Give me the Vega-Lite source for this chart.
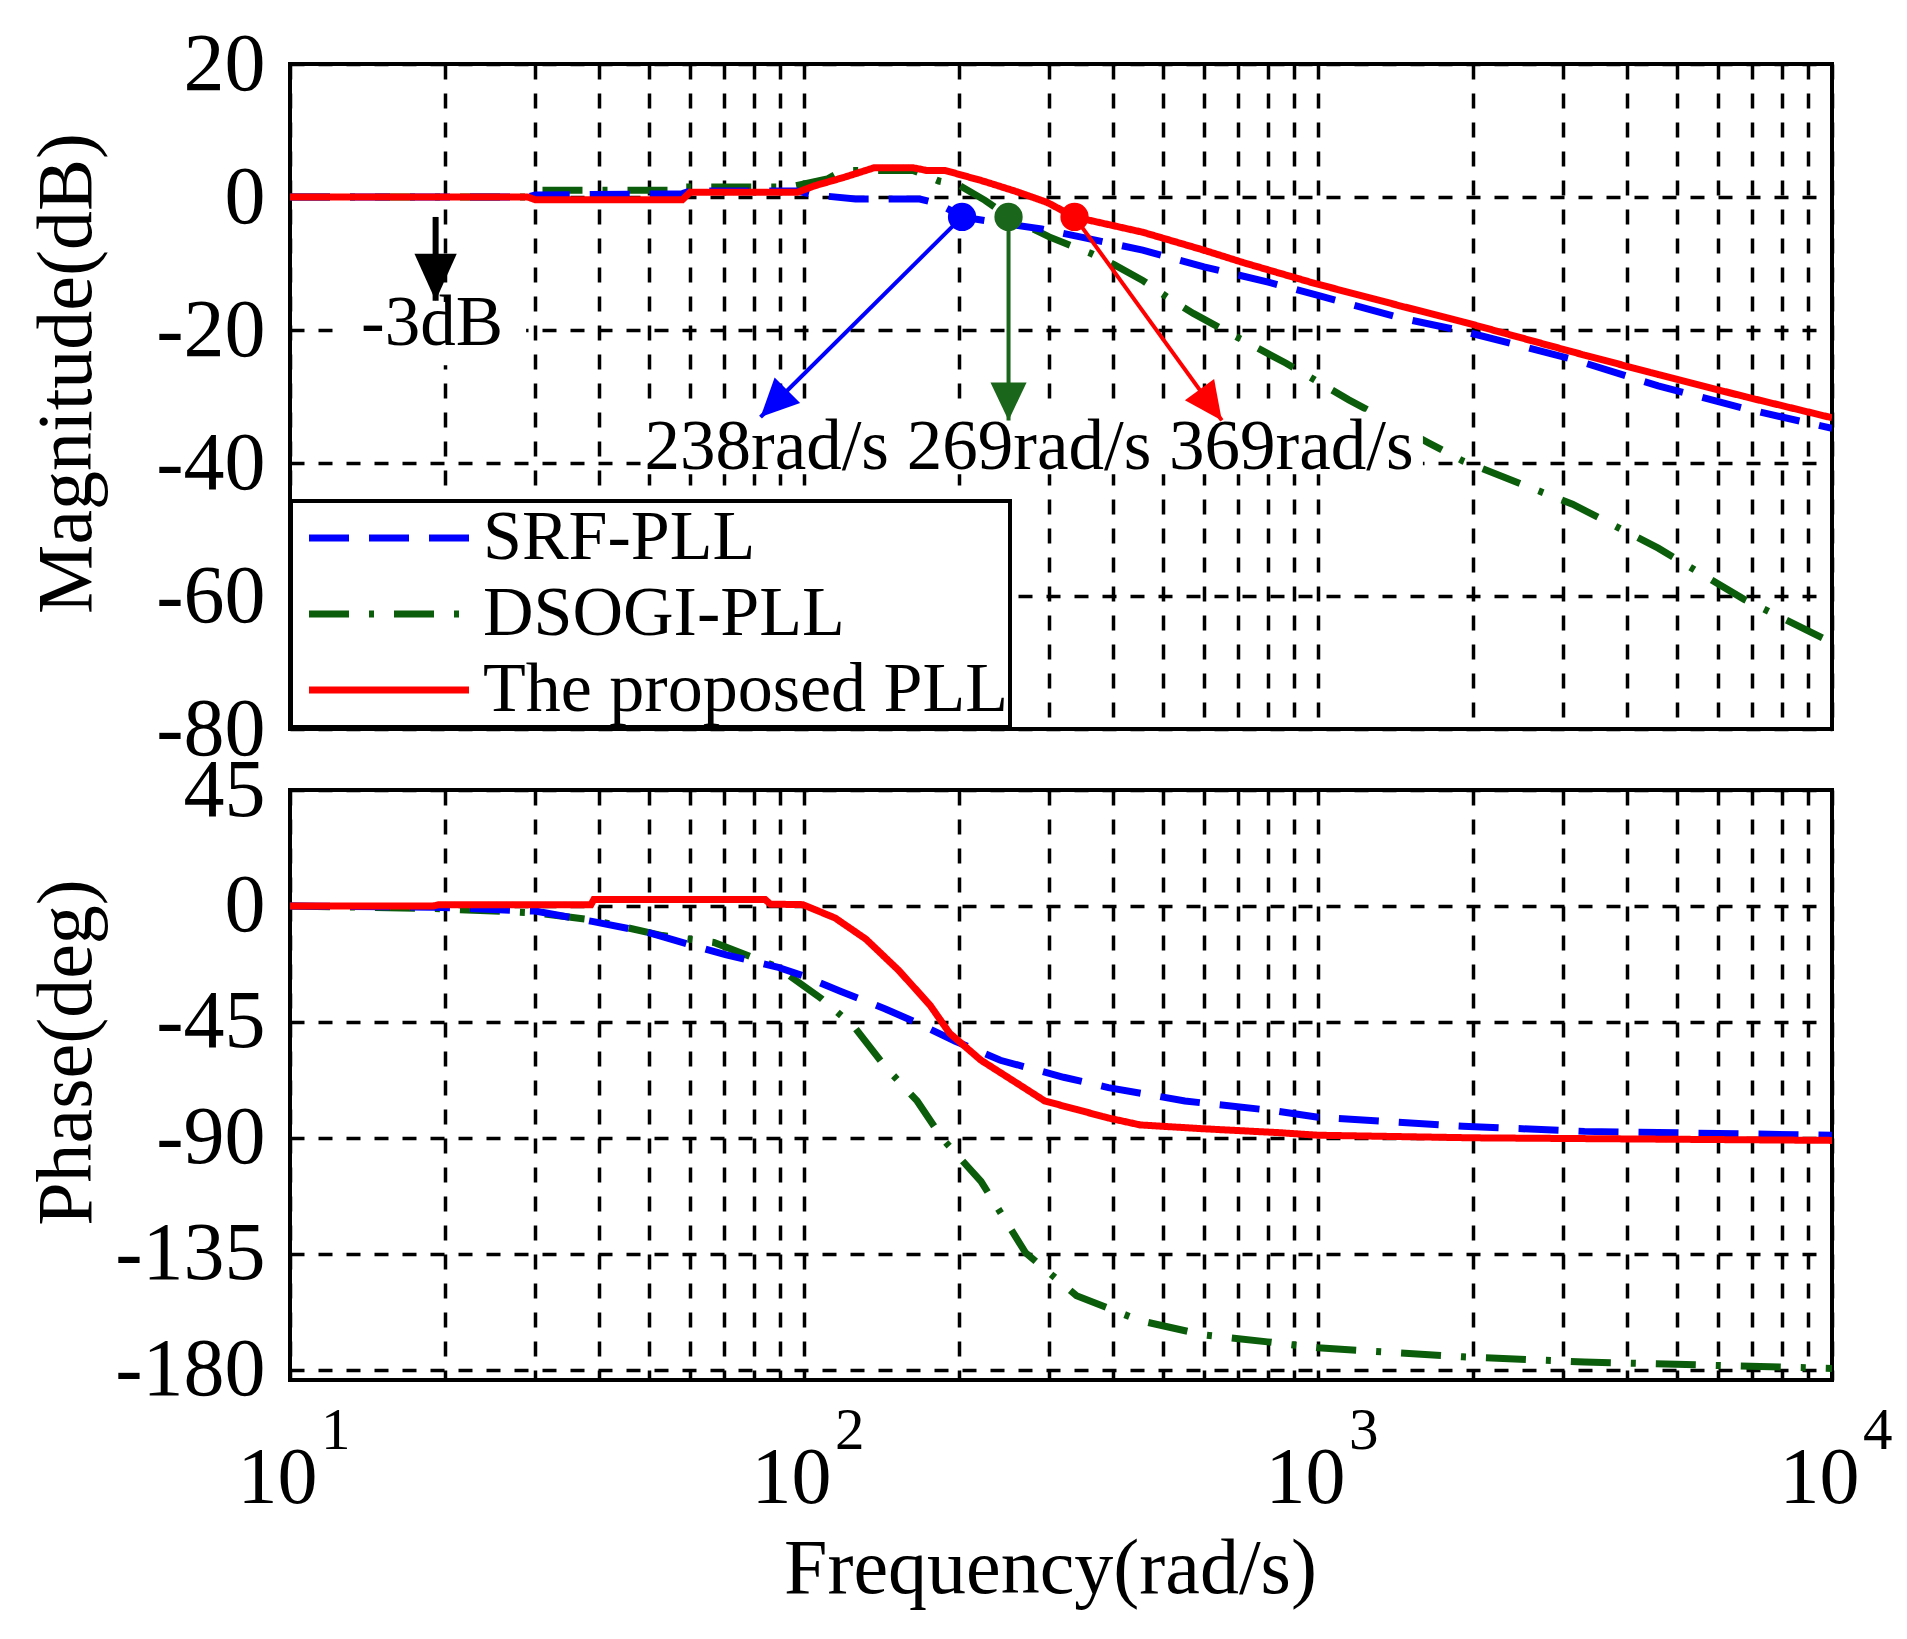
{
  "$schema": "https://vega.github.io/schema/vega-lite/v6.json",
  "padding": {"left": 26, "top": 21, "right": 0, "bottom": 0},
  "spacing": 61,
  "bounds": "flush",
  "datasets": {
    "mag": [
      {"s": "DSOGI-PLL", "f": 10, "db": 0}, {"s": "DSOGI-PLL", "f": 29, "db": 0}, {"s": "DSOGI-PLL", "f": 30, "db": 1},
      {"s": "DSOGI-PLL", "f": 58, "db": 1}, {"s": "DSOGI-PLL", "f": 59, "db": 1.5}, {"s": "DSOGI-PLL", "f": 94, "db": 1.5},
      {"s": "DSOGI-PLL", "f": 111, "db": 2.7}, {"s": "DSOGI-PLL", "f": 119, "db": 4}, {"s": "DSOGI-PLL", "f": 163, "db": 4},
      {"s": "DSOGI-PLL", "f": 183, "db": 2.4}, {"s": "DSOGI-PLL", "f": 200, "db": 1.8}, {"s": "DSOGI-PLL", "f": 225, "db": -0.5},
      {"s": "DSOGI-PLL", "f": 250, "db": -3}, {"s": "DSOGI-PLL", "f": 300, "db": -6}, {"s": "DSOGI-PLL", "f": 362, "db": -8.5},
      {"s": "DSOGI-PLL", "f": 402, "db": -10.2}, {"s": "DSOGI-PLL", "f": 455, "db": -12.5}, {"s": "DSOGI-PLL", "f": 519, "db": -15.5},
      {"s": "DSOGI-PLL", "f": 572, "db": -17.5}, {"s": "DSOGI-PLL", "f": 670, "db": -20.4}, {"s": "DSOGI-PLL", "f": 867, "db": -25},
      {"s": "DSOGI-PLL", "f": 1148, "db": -30.5}, {"s": "DSOGI-PLL", "f": 1644, "db": -37}, {"s": "DSOGI-PLL", "f": 1914, "db": -39.7},
      {"s": "DSOGI-PLL", "f": 3128, "db": -46.2}, {"s": "DSOGI-PLL", "f": 4592, "db": -52.8}, {"s": "DSOGI-PLL", "f": 6745, "db": -60.5},
      {"s": "DSOGI-PLL", "f": 10000, "db": -67},
      {"s": "SRF-PLL", "f": 10, "db": 0}, {"s": "SRF-PLL", "f": 29, "db": 0}, {"s": "SRF-PLL", "f": 30, "db": 0.3},
      {"s": "SRF-PLL", "f": 58, "db": 0.5}, {"s": "SRF-PLL", "f": 60, "db": 0.9}, {"s": "SRF-PLL", "f": 97, "db": 0.9},
      {"s": "SRF-PLL", "f": 105, "db": 0.3}, {"s": "SRF-PLL", "f": 126, "db": -0.3}, {"s": "SRF-PLL", "f": 168, "db": -0.3},
      {"s": "SRF-PLL", "f": 182, "db": -1}, {"s": "SRF-PLL", "f": 195, "db": -2.2}, {"s": "SRF-PLL", "f": 203, "db": -3},
      {"s": "SRF-PLL", "f": 240, "db": -3.9}, {"s": "SRF-PLL", "f": 290, "db": -4.8}, {"s": "SRF-PLL", "f": 350, "db": -6.1},
      {"s": "SRF-PLL", "f": 456, "db": -8}, {"s": "SRF-PLL", "f": 600, "db": -10.5}, {"s": "SRF-PLL", "f": 800, "db": -12.8},
      {"s": "SRF-PLL", "f": 1000, "db": -14.8}, {"s": "SRF-PLL", "f": 1450, "db": -18.2}, {"s": "SRF-PLL", "f": 1920, "db": -20.2},
      {"s": "SRF-PLL", "f": 3130, "db": -24.4}, {"s": "SRF-PLL", "f": 4590, "db": -28.4}, {"s": "SRF-PLL", "f": 6750, "db": -31.8},
      {"s": "SRF-PLL", "f": 10000, "db": -34.8},
      {"s": "The proposed PLL", "f": 10, "db": 0}, {"s": "The proposed PLL", "f": 29, "db": 0}, {"s": "The proposed PLL", "f": 30, "db": -0.4},
      {"s": "The proposed PLL", "f": 58, "db": -0.4}, {"s": "The proposed PLL", "f": 60, "db": 0.7}, {"s": "The proposed PLL", "f": 97, "db": 0.7},
      {"s": "The proposed PLL", "f": 105, "db": 1.7}, {"s": "The proposed PLL", "f": 119, "db": 2.9}, {"s": "The proposed PLL", "f": 137, "db": 4.4},
      {"s": "The proposed PLL", "f": 163, "db": 4.4}, {"s": "The proposed PLL", "f": 173, "db": 4}, {"s": "The proposed PLL", "f": 188, "db": 4},
      {"s": "The proposed PLL", "f": 223, "db": 2.4}, {"s": "The proposed PLL", "f": 257, "db": 0.9}, {"s": "The proposed PLL", "f": 297, "db": -0.8},
      {"s": "The proposed PLL", "f": 336, "db": -3}, {"s": "The proposed PLL", "f": 456, "db": -5.3}, {"s": "The proposed PLL", "f": 600, "db": -8},
      {"s": "The proposed PLL", "f": 718, "db": -9.9}, {"s": "The proposed PLL", "f": 986, "db": -13}, {"s": "The proposed PLL", "f": 1450, "db": -16.4},
      {"s": "The proposed PLL", "f": 1920, "db": -18.8}, {"s": "The proposed PLL", "f": 3130, "db": -23.3}, {"s": "The proposed PLL", "f": 4590, "db": -26.7},
      {"s": "The proposed PLL", "f": 6750, "db": -30}, {"s": "The proposed PLL", "f": 10000, "db": -33.2}
    ],
    "phase": [
      {"s": "DSOGI-PLL", "f": 10, "deg": 0}, {"s": "DSOGI-PLL", "f": 19, "deg": -1}, {"s": "DSOGI-PLL", "f": 30, "deg": -2.7},
      {"s": "DSOGI-PLL", "f": 38.7, "deg": -5.4}, {"s": "DSOGI-PLL", "f": 53, "deg": -11.5}, {"s": "DSOGI-PLL", "f": 66.8, "deg": -14.2},
      {"s": "DSOGI-PLL", "f": 88.7, "deg": -23.7}, {"s": "DSOGI-PLL", "f": 108, "deg": -35.9}, {"s": "DSOGI-PLL", "f": 125, "deg": -46.7},
      {"s": "DSOGI-PLL", "f": 144, "deg": -62.5}, {"s": "DSOGI-PLL", "f": 166, "deg": -75.7}, {"s": "DSOGI-PLL", "f": 186, "deg": -90.4},
      {"s": "DSOGI-PLL", "f": 221, "deg": -106.9}, {"s": "DSOGI-PLL", "f": 270, "deg": -134.7}, {"s": "DSOGI-PLL", "f": 339, "deg": -151.3},
      {"s": "DSOGI-PLL", "f": 451, "deg": -161}, {"s": "DSOGI-PLL", "f": 600, "deg": -166.5}, {"s": "DSOGI-PLL", "f": 798, "deg": -169.2},
      {"s": "DSOGI-PLL", "f": 1000, "deg": -171.5}, {"s": "DSOGI-PLL", "f": 1914, "deg": -175}, {"s": "DSOGI-PLL", "f": 3300, "deg": -177},
      {"s": "DSOGI-PLL", "f": 10000, "deg": -179.5},
      {"s": "SRF-PLL", "f": 10, "deg": 0}, {"s": "SRF-PLL", "f": 19, "deg": -0.5}, {"s": "SRF-PLL", "f": 30, "deg": -2},
      {"s": "SRF-PLL", "f": 38.7, "deg": -6}, {"s": "SRF-PLL", "f": 49.6, "deg": -10.2}, {"s": "SRF-PLL", "f": 59.6, "deg": -14.9},
      {"s": "SRF-PLL", "f": 70.6, "deg": -19}, {"s": "SRF-PLL", "f": 88.7, "deg": -23.7}, {"s": "SRF-PLL", "f": 99.5, "deg": -27.1},
      {"s": "SRF-PLL", "f": 118, "deg": -33.2}, {"s": "SRF-PLL", "f": 144, "deg": -40}, {"s": "SRF-PLL", "f": 166, "deg": -45.4},
      {"s": "SRF-PLL", "f": 197, "deg": -52.5}, {"s": "SRF-PLL", "f": 241, "deg": -59.9}, {"s": "SRF-PLL", "f": 320, "deg": -66.5},
      {"s": "SRF-PLL", "f": 391, "deg": -70.5}, {"s": "SRF-PLL", "f": 551, "deg": -75.7}, {"s": "SRF-PLL", "f": 822, "deg": -79.5},
      {"s": "SRF-PLL", "f": 1000, "deg": -82}, {"s": "SRF-PLL", "f": 1914, "deg": -85.5}, {"s": "SRF-PLL", "f": 3300, "deg": -87.5},
      {"s": "SRF-PLL", "f": 10000, "deg": -89},
      {"s": "The proposed PLL", "f": 10, "deg": 0}, {"s": "The proposed PLL", "f": 19, "deg": 0}, {"s": "The proposed PLL", "f": 19.5, "deg": 0.5},
      {"s": "The proposed PLL", "f": 38.5, "deg": 0.5}, {"s": "The proposed PLL", "f": 39, "deg": 2.5}, {"s": "The proposed PLL", "f": 84, "deg": 2.5},
      {"s": "The proposed PLL", "f": 86, "deg": 0.7}, {"s": "The proposed PLL", "f": 99.5, "deg": 0.5}, {"s": "The proposed PLL", "f": 115, "deg": -4.7},
      {"s": "The proposed PLL", "f": 132, "deg": -12.9}, {"s": "The proposed PLL", "f": 153, "deg": -25.1}, {"s": "The proposed PLL", "f": 176, "deg": -38.6},
      {"s": "The proposed PLL", "f": 192, "deg": -49.4}, {"s": "The proposed PLL", "f": 221, "deg": -59.9}, {"s": "The proposed PLL", "f": 255, "deg": -67.8},
      {"s": "The proposed PLL", "f": 294, "deg": -75.7}, {"s": "The proposed PLL", "f": 339, "deg": -79}, {"s": "The proposed PLL", "f": 391, "deg": -82.3},
      {"s": "The proposed PLL", "f": 451, "deg": -85}, {"s": "The proposed PLL", "f": 600, "deg": -86.5}, {"s": "The proposed PLL", "f": 840, "deg": -88},
      {"s": "The proposed PLL", "f": 1000, "deg": -89}, {"s": "The proposed PLL", "f": 2000, "deg": -90}, {"s": "The proposed PLL", "f": 10000, "deg": -91}
    ],
    "arrows": [
      {"s": "SRF-PLL", "f": 203, "db": -3, "f2": 82.3, "db2": -33.1, "angle": 225},
      {"s": "DSOGI-PLL", "f": 250, "db": -3, "f2": 250, "db2": -33.6, "angle": 180},
      {"s": "The proposed PLL", "f": 336, "db": -3, "f2": 650, "db2": -33.6, "angle": 144},
      {"s": "-3dB", "f": 19.2, "db": -3, "f2": 19.2, "db2": -15.6, "angle": 180}
    ],
    "dots": [
      {"s": "SRF-PLL", "f": 203, "db": -3},
      {"s": "DSOGI-PLL", "f": 250, "db": -3},
      {"s": "The proposed PLL", "f": 336, "db": -3}
    ],
    "notes": [
      {"f": 18.9, "db": -22.3, "t": "-3dB", "f1": 12.2, "f2": 28.8, "top": -15.8, "bottom": -25.3},
      {"f": 274, "db": -40.9, "t": "238rad/s 269rad/s 369rad/s", "f1": 48.4, "f2": 1600, "top": -32.3, "bottom": -41.7}
    ],
    "expo": [
      {"f": 10, "e": "1"}, {"f": 100, "e": "2"}, {"f": 1000, "e": "3"}, {"f": 10000, "e": "4"}
    ]
  },
  "vconcat": [
    {
      "width": 1542,
      "height": 665,
      "layer": [
        {
          "data": {"name": "mag"},
          "mark": {"type": "line", "strokeWidth": 7, "clip": true},
          "encoding": {
            "x": {
              "field": "f", "type": "quantitative",
              "scale": {"type": "log", "domain": [10, 10000], "nice": false},
              "axis": {
                "values": [10,20,30,40,50,60,70,80,90,100,200,300,400,500,600,700,800,900,1000,2000,3000,4000,5000,6000,7000,8000,9000,10000],
                "labels": false, "title": null, "gridDash": [15, 14]
              }
            },
            "y": {
              "field": "db", "type": "quantitative",
              "scale": {"domain": [-80, 20], "nice": false, "zero": false},
              "axis": {
                "values": [20, 0, -20, -40, -60, -80],
                "labelExpr": "datum.value < 0 ? '-' + (-datum.value) : '' + datum.value",
                "labelFontSize": 82, "labelPadding": 25, "labelBaseline": "middle",
                "title": "Magnitude(dB)", "titleFontSize": 78, "titleAngle": -90,
                "titleBaseline": "alphabetic", "titleAlign": "center", "titleX": -200, "titleY": 309
              }
            },
            "color": {
              "field": "s", "type": "nominal",
              "scale": {"domain": ["SRF-PLL", "DSOGI-PLL", "The proposed PLL"], "range": ["#0000ff", "#0b5d0b", "#ff0000"]},
              "legend": {
                "title": null, "orient": "none", "legendX": 1, "legendY": 437,
                "symbolType": "M-0.95,0H7.05", "symbolSize": 1600, "symbolStrokeWidth": 7,
                "labelFont": "Liberation Serif", "labelFontSize": 70, "labelColor": "#000",
                "labelOffset": 120, "labelLimit": 1000, "rowPadding": 6, "padding": 2,
                "strokeColor": "#000", "fillColor": "#fff",
                "encode": {"legend": {"update": {"strokeWidth": {"value": 4}}}}
              }
            },
            "strokeDash": {
              "field": "s", "type": "nominal",
              "scale": {"domain": ["SRF-PLL", "DSOGI-PLL", "The proposed PLL"], "range": [[40, 20], [40, 20, 5, 20], [1, 0]]},
              "legend": {
                "title": null, "orient": "none", "legendX": 1, "legendY": 437,
                "symbolType": "M-0.95,0H7.05", "symbolSize": 1600, "symbolStrokeWidth": 7,
                "labelFont": "Liberation Serif", "labelFontSize": 70, "labelColor": "#000",
                "labelOffset": 120, "labelLimit": 1000, "rowPadding": 6, "padding": 2,
                "strokeColor": "#000", "fillColor": "#fff",
                "encode": {"legend": {"update": {"strokeWidth": {"value": 4}}}}
              }
            }
          }
        },
        {
          "data": {"name": "notes"},
          "mark": {"type": "rect", "color": "#ffffff", "opacity": 1, "strokeWidth": 0},
          "encoding": {
            "x": {"field": "f1", "type": "quantitative"},
            "x2": {"field": "f2"},
            "y": {"field": "top", "type": "quantitative"},
            "y2": {"field": "bottom"}
          }
        },
        {
          "mark": {"type": "rule", "color": "#000", "strokeWidth": 7},
          "encoding": {"y": {"datum": -3}}
        },
        {
          "data": {"name": "arrows"},
          "transform": [{"filter": "datum.s != '-3dB'"}],
          "mark": {"type": "rule", "strokeWidth": 4},
          "encoding": {
            "x": {"field": "f", "type": "quantitative"},
            "x2": {"field": "f2"},
            "y": {"field": "db", "type": "quantitative"},
            "y2": {"field": "db2"},
            "stroke": {"field": "s", "type": "nominal", "scale": {"domain": ["SRF-PLL", "DSOGI-PLL", "The proposed PLL", "-3dB"], "range": ["#0000ff", "#1a661a", "#ff0000", "#000000"]}, "legend": null}
          }
        },
        {
          "data": {"name": "arrows"},
          "transform": [{"filter": "datum.s == '-3dB'"}],
          "mark": {"type": "rule", "strokeWidth": 6, "color": "#000"},
          "encoding": {
            "x": {"field": "f", "type": "quantitative"},
            "y": {"field": "db", "type": "quantitative"},
            "y2": {"field": "db2"}
          }
        },
        {
          "data": {"name": "arrows"},
          "transform": [{"filter": "datum.s != '-3dB'"}],
          "mark": {"type": "point", "filled": true, "opacity": 1, "shape": "M0,0L-0.95,2L0.95,2Z", "size": 1444, "strokeWidth": 0},
          "encoding": {
            "x": {"field": "f2", "type": "quantitative"},
            "y": {"field": "db2", "type": "quantitative"},
            "angle": {"field": "angle", "type": "quantitative", "scale": null},
            "fill": {"field": "s", "type": "nominal", "scale": {"domain": ["SRF-PLL", "DSOGI-PLL", "The proposed PLL", "-3dB"], "range": ["#0000ff", "#1a661a", "#ff0000", "#000000"]}, "legend": null}
          }
        },
        {
          "data": {"name": "arrows"},
          "transform": [{"filter": "datum.s == '-3dB'"}],
          "mark": {"type": "point", "filled": true, "opacity": 1, "shape": "M0,0L-0.9,2L0.9,2Z", "size": 2209, "strokeWidth": 0, "color": "#000"},
          "encoding": {
            "x": {"field": "f2", "type": "quantitative"},
            "y": {"field": "db2", "type": "quantitative"},
            "angle": {"field": "angle", "type": "quantitative", "scale": null}
          }
        },
        {
          "data": {"name": "dots"},
          "mark": {"type": "circle", "opacity": 1, "size": 800},
          "encoding": {
            "x": {"field": "f", "type": "quantitative"},
            "y": {"field": "db", "type": "quantitative"},
            "fill": {"field": "s", "type": "nominal", "scale": {"domain": ["SRF-PLL", "DSOGI-PLL", "The proposed PLL", "-3dB"], "range": ["#0000ff", "#1a661a", "#ff0000", "#000000"]}, "legend": null}
          }
        },
        {
          "data": {"name": "notes"},
          "mark": {"type": "text", "font": "Liberation Serif", "fontSize": 71, "align": "center", "baseline": "alphabetic", "color": "#000"},
          "encoding": {
            "x": {"field": "f", "type": "quantitative"},
            "y": {"field": "db", "type": "quantitative"},
            "text": {"field": "t"}
          }
        }
      ]
    },
    {
      "width": 1542,
      "height": 590,
      "layer": [
        {
          "data": {"name": "phase"},
          "mark": {"type": "line", "strokeWidth": 7, "clip": true},
          "encoding": {
            "x": {
              "field": "f", "type": "quantitative",
              "scale": {"type": "log", "domain": [10, 10000], "nice": false},
              "axis": {
                "values": [10,20,30,40,50,60,70,80,90,100,200,300,400,500,600,700,800,900,1000,2000,3000,4000,5000,6000,7000,8000,9000,10000],
                "labelExpr": "indexof([10, 100, 1000, 10000], datum.value) >= 0 ? '10' : ''",
                "labelFontSize": 80, "labelBaseline": "alphabetic", "labelAlign": "center",
                "labelPadding": 122, "labelOffset": -13, "labelFlush": false, "labelOverlap": false,
                "gridDash": [15, 14],
                "title": "Frequency(rad/s)", "titleFontSize": 78, "titleBaseline": "alphabetic", "titleAlign": "center", "titleX": 760, "titleY": 212
              }
            },
            "y": {
              "field": "deg", "type": "quantitative",
              "scale": {"domain": [-184, 45], "nice": false, "zero": false},
              "axis": {
                "values": [45, 0, -45, -90, -135, -180],
                "labelExpr": "datum.value < 0 ? '-' + (-datum.value) : '' + datum.value",
                "labelFontSize": 82, "labelPadding": 25, "labelBaseline": "middle",
                "title": "Phase(deg)", "titleFontSize": 78, "titleAngle": -90,
                "titleBaseline": "alphabetic", "titleAlign": "center", "titleX": -200, "titleY": 262
              }
            },
            "color": {
              "field": "s", "type": "nominal",
              "scale": {"domain": ["SRF-PLL", "DSOGI-PLL", "The proposed PLL"], "range": ["#0000ff", "#0b5d0b", "#ff0000"]},
              "legend": null
            },
            "strokeDash": {
              "field": "s", "type": "nominal",
              "scale": {"domain": ["SRF-PLL", "DSOGI-PLL", "The proposed PLL"], "range": [[40, 20], [40, 20, 5, 20], [1, 0]]},
              "legend": null
            }
          }
        },
        {
          "data": {"name": "expo"},
          "mark": {"type": "text", "font": "Liberation Serif", "fontSize": 59, "align": "left", "baseline": "alphabetic", "dx": 31, "dy": 69, "color": "#000"},
          "encoding": {
            "x": {"field": "f", "type": "quantitative"},
            "y": {"datum": -184},
            "text": {"field": "e"}
          }
        }
      ]
    }
  ],
  "resolve": {
    "scale": {"color": "independent", "strokeDash": "independent"},
    "legend": {"color": "independent", "strokeDash": "independent"}
  },
  "config": {
    "view": {"stroke": "#000", "strokeWidth": 4},
    "font": "Liberation Serif",
    "axis": {
      "domain": false, "ticks": false, "tickSize": 0,
      "grid": true, "gridColor": "#000", "gridOpacity": 1, "gridWidth": 3.5, "gridDash": [14, 14],
      "labelFont": "Liberation Serif", "titleFont": "Liberation Serif",
      "labelColor": "#000", "titleColor": "#000", "titleFontWeight": "normal"
    }
  }
}
